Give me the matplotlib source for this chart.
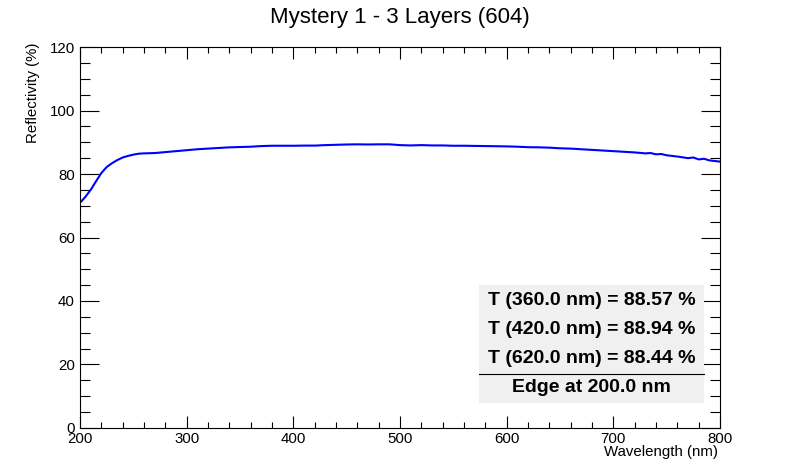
import matplotlib
matplotlib.use("Agg")
import matplotlib.pyplot as plt
from matplotlib.patches import Rectangle
from matplotlib.lines import Line2D
from matplotlib.ticker import MultipleLocator

plt.rcParams['font.family'] = ['Liberation Sans', 'DejaVu Sans']

# spectrum
wavelength = [200, 205, 210, 215, 220, 225, 230, 235, 240, 245, 250, 255, 260,
              270, 280, 290, 300, 310, 320, 330, 340, 350, 360, 370, 380, 390,
              400, 410, 420, 430, 440, 450, 460, 470, 480, 490, 500, 510, 520,
              530, 540, 550, 560, 570, 580, 590, 600, 610, 620, 630, 640, 650,
              660, 670, 680, 690, 700, 710, 720, 730, 735, 740, 745, 750, 760,
              770, 775, 780, 785, 790, 800]
reflectivity = [70.9, 72.8, 75.0, 77.7, 80.3, 82.2, 83.4, 84.4, 85.2, 85.7, 86.1,
                86.4, 86.5, 86.6, 86.9, 87.2, 87.5, 87.8, 88.0, 88.2, 88.4, 88.5,
                88.6, 88.8, 88.9, 88.9, 88.9, 88.95, 88.95, 89.1, 89.2, 89.3,
                89.35, 89.3, 89.35, 89.35, 89.1, 89.0, 89.1, 89.0, 89.0, 88.9,
                88.9, 88.85, 88.8, 88.75, 88.7, 88.6, 88.45, 88.4, 88.3, 88.1,
                88.0, 87.8, 87.6, 87.4, 87.2, 87.0, 86.8, 86.5, 86.6, 86.2, 86.3,
                85.9, 85.5, 85.0, 85.2, 84.6, 84.8, 84.3, 83.9]

probe_nm = [360.0, 420.0, 620.0]
probe_T = [88.57, 88.94, 88.44]
edge_nm = 200.0

fig = plt.figure(figsize=(8, 4.75), dpi=100)
ax = fig.add_axes([0.1, 0.099, 0.8, 0.802])

ax.plot(wavelength, reflectivity, color='#0000ff', lw=1.5)

ax.set_xlim(200, 800)
ax.set_ylim(0, 120)
ax.xaxis.set_major_locator(MultipleLocator(100))
ax.xaxis.set_minor_locator(MultipleLocator(20))
ax.yaxis.set_major_locator(MultipleLocator(20))
ax.yaxis.set_minor_locator(MultipleLocator(5))
ax.tick_params(axis='both', which='both', direction='in', top=True, right=True,
               width=0.8, labelsize=10.8)
ax.tick_params(axis='x', which='major', length=8.6, pad=3)
ax.tick_params(axis='x', which='minor', length=4.3)
ax.tick_params(axis='y', which='major', length=13.7, pad=3.6)
ax.tick_params(axis='y', which='minor', length=7.2)
for s in ax.spines.values():
    s.set_linewidth(0.8)

fig.text(0.5, 0.964, 'Mystery 1 - 3 Layers (604)', ha='center', va='center', fontsize=16)
fig.text(0.8975, 0.0484, 'Wavelength (nm)', ha='right', va='center', fontsize=10.8)
fig.text(0.041, 0.9095, 'Reflectivity (%)', rotation=90, ha='center', va='top', fontsize=10.8)

# info box
bx, by, bw, bh = 0.599, 0.1516, 0.281, 0.2484
fig.patches.append(Rectangle((bx, by), bw, bh, transform=fig.transFigure,
                             facecolor='#f0f0f0', edgecolor='none', zorder=5))
fig.lines.append(Line2D([bx, bx + bw], [0.2126, 0.2126], transform=fig.transFigure,
                        color='black', lw=0.8, zorder=6))
rows_y = [0.3683, 0.3073, 0.2462]
for yy, w, t in zip(rows_y, probe_nm, probe_T):
    fig.text(bx + bw / 2, yy, f'T ({w:.1f} nm) = {t:.2f} %', ha='center', va='center',
             fontsize=14, fontweight='bold', zorder=7)
fig.text(bx + bw / 2, 0.1852, f'Edge at {edge_nm:.1f} nm', ha='center', va='center',
         fontsize=14, fontweight='bold', zorder=7)

fig.savefig('out.png', dpi=100)
